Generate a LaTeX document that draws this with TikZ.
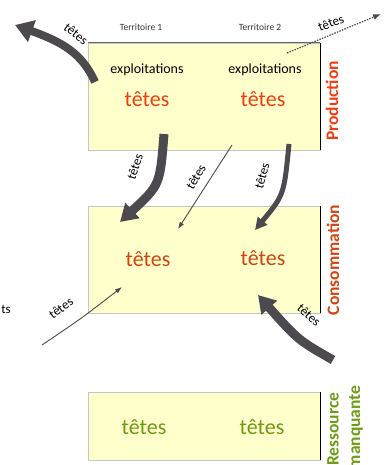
\documentclass[tikz,border=0pt]{standalone}
\usepackage{fontspec}
\setmainfont{Carlito}
\usetikzlibrary{arrows,arrows.meta,positioning}
\definecolor{boxfill}{HTML}{FFFFCC}
\definecolor{fluxgray}{HTML}{4D4A4F}
\definecolor{prodred}{HTML}{F23C10}
\definecolor{consored}{HTML}{CF4512}
\definecolor{manqgreen}{HTML}{6E9B14}

\begin{document}
\begin{tikzpicture}[x=1pt,y=-1pt,auto,
    box/.style={draw=gray!45,fill=boxfill,minimum width=232pt,minimum height=#1,inner sep=0pt},
    heads/.style={font=\fontsize{22}{24}\selectfont},
    lbl/.style={font=\fontsize{13}{14}\selectfont,inner sep=1pt},
    side/.style={rotate=90,font=\bfseries\fontsize{17.5}{19}\selectfont},
    fat/.style={draw=fluxgray,line width=#1},
    thin/.style={draw=fluxgray,line width=.9pt,-{Latex[length=7pt,width=5pt]}}]
    \useasboundingbox (0,0) rectangle (390,465);

    \node[box=107pt] (prod) at (204,96.5) {};
    \node[box=107pt] (conso) at (204,259.5) {};
    \node[box=68pt] (manq) at (204,426) {};
    \draw[draw=gray!80!black,line width=.8pt] (prod.north west) -- (prod.north east);
    \draw[line width=1.2pt] (prod.north east) -- (prod.south east);
    \draw[line width=1.2pt] (conso.north east) -- (conso.south east);
    \draw[line width=1.2pt] (manq.north east) -- (manq.south east);

    \node[font=\fontsize{9.5}{10}\selectfont,text=black!80] (terr1) at (141,27) {Territoire 1};
    \node[font=\fontsize{9.5}{10}\selectfont,text=black!80] (terr2) at (260,27) {Territoire 2};
    \node[font=\fontsize{14}{15}\selectfont] (expl1) at (147,70) {exploitations};
    \node[font=\fontsize{14}{15}\selectfont] (expl2) at (265,70) {exploitations};
    \node[heads,text=prodred] (prod1) at (147,99) {têtes};
    \node[heads,text=prodred] (prod2) at (263,99) {têtes};
    \node[heads,text=consored] (conso1) at (148,259) {têtes};
    \node[heads,text=consored] (conso2) at (263,258) {têtes};
    \node[heads,text=manqgreen] (manq1) at (144,427) {têtes};
    \node[heads,text=manqgreen] (manq2) at (262,427) {têtes};

    \node[side,text=prodred] (prodlabel) at (332,101) {Production};
    \node[side,text=consored] (consolabel) at (333,260) {Consommation};
    \node[side,text=manqgreen,anchor=east] (manqlabel) at (333,389) {Ressource};
    \node[side,text=manqgreen,anchor=east] (manqlabel2) at (356,382) {manquante};
    \node[lbl,font=\fontsize{13}{14}\selectfont,anchor=east] (cut) at (12,309) {ts};

    % sorties de production
    \coordinate (exp1) at (15,25);
    \coordinate (exp2) at (381,14);
    \coordinate (exp1s) at (95,82);
    \coordinate (exp2s) at (287,53);
    \draw[fat=8pt,-{Triangle[length=18pt,width=22pt]}] (exp1s) .. controls (82,53) and (62,42) .. (exp1);
    \node[lbl,rotate=-38] (l1) at (76,34) {têtes};
    \draw[draw=fluxgray,line width=1.2pt,dash pattern=on 1.5pt off 1.2pt,-{Latex[length=8pt,width=6pt]}] (exp2s) -- (exp2);
    \node[lbl,rotate=21] (l2) at (331,23) {têtes};

    % production vers consommation
    \coordinate (p1) at (164,134);
    \coordinate (c1) at (120,222);
    \coordinate (p2) at (232,145);
    \coordinate (c2) at (178,229);
    \coordinate (p3) at (289,144);
    \coordinate (c3) at (255,230);
    \draw[fat=9pt,-{Triangle[length=17pt,width=20pt]}] (p1) .. controls (160,185) .. (c1);
    \node[lbl,rotate=72] (l3) at (135,167) {têtes};
    \draw[thin] (p2) -- (c2);
    \node[lbl,rotate=60] (l4) at (196,177) {têtes};
    \draw[fat=5pt,-{Triangle[length=12pt,width=12pt]}] (p3) .. controls (284,195) .. (c3);
    \node[lbl,rotate=75] (l5) at (262,176) {têtes};

    % entrees en consommation
    \coordinate (imp1) at (42,345);
    \coordinate (c4) at (122,287);
    \coordinate (imp2) at (333,360);
    \coordinate (c5) at (258,295);
    \draw[thin] (imp1) .. controls (82,318) .. (c4);
    \node[lbl,rotate=36] (l6) at (61,308) {têtes};
    \draw[fat=9pt,-{Triangle[length=17pt,width=20pt]}] (imp2) .. controls (298,340) .. (c5);
    \node[lbl,rotate=-42] (l7) at (309,315) {têtes};
\end{tikzpicture}
\end{document}
